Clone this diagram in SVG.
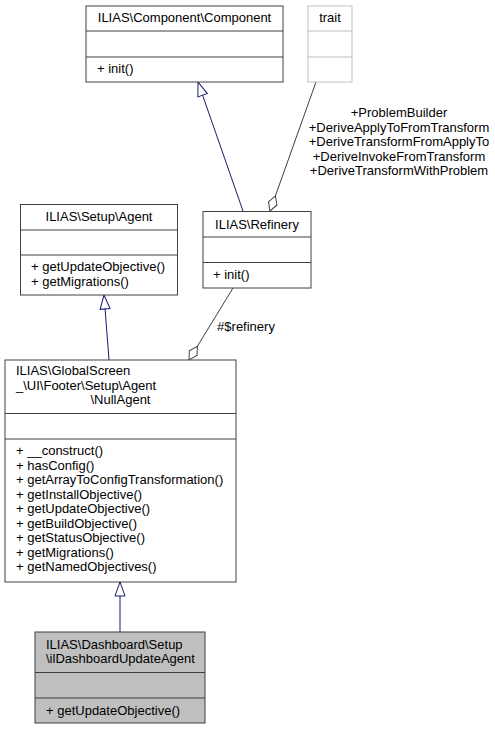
<svg xmlns="http://www.w3.org/2000/svg" width="495" height="729" viewBox="0 0 495 729">
<style>
  text { font-family: "Liberation Sans", Arial, Helvetica, sans-serif; font-size: 13px; fill: #000; }
  .m { text-anchor: middle; }
  .box { fill: #fff; stroke: #404040; stroke-width: 1; }
  .div { stroke: #404040; stroke-width: 1; }
  .tbox { fill: #fff; stroke: #bfbfbf; stroke-width: 1; }
  .tdiv { stroke: #bfbfbf; stroke-width: 1; }
  .cur { fill: #bfbfbf; stroke: #404040; stroke-width: 1; }
  .inh { fill: none; stroke: #191970; stroke-width: 1; marker-end: url(#tri); }
  .agg { fill: none; stroke: #404040; stroke-width: 1; marker-end: url(#dia); }
</style>
<defs>
  <marker id="tri" markerUnits="userSpaceOnUse" markerWidth="16" markerHeight="12" refX="14" refY="5" orient="auto" overflow="visible">
    <path d="M0,0 L14,5 L0,10 Z" fill="#fff" stroke="#191970" stroke-width="1"/>
  </marker>
  <marker id="dia" markerUnits="userSpaceOnUse" markerWidth="18" markerHeight="12" refX="16" refY="4.5" orient="auto" overflow="visible">
    <path d="M0,4.5 L8,0 L16,4.5 L8,9 Z" fill="#fff" stroke="#404040" stroke-width="1"/>
  </marker>
</defs>
<rect width="495" height="729" fill="#fff"/>

<g id="connectors">
  <path class="inh" d="M243,211 L198,82"/>
  <path class="inh" d="M109,360 L104,295"/>
  <path class="inh" d="M120,632 L120,582"/>
  <path class="agg" d="M316,82 L270,211"/>
  <path class="agg" d="M233,288 L189,360"/>
  <text class="m" x="399" y="117">+ProblemBuilder</text>
  <text class="m" x="399" y="131.5">+DeriveApplyToFromTransform</text>
  <text class="m" x="399" y="146">+DeriveTransformFromApplyTo</text>
  <text class="m" x="399" y="160.5">+DeriveInvokeFromTransform</text>
  <text class="m" x="399" y="175">+DeriveTransformWithProblem</text>
  <text class="m" x="246" y="331">#$refinery</text>
</g>

<g id="node-component">
  <rect class="box" x="86" y="6" width="197" height="76"/>
  <line class="div" x1="86" y1="31" x2="283" y2="31"/>
  <line class="div" x1="86" y1="57" x2="283" y2="57"/>
  <text class="m" x="184.5" y="22">ILIAS\Component\Component</text>
  <text x="97" y="73">+ init()</text>
</g>

<g id="node-trait">
  <rect class="tbox" x="308" y="6" width="44" height="76"/>
  <line class="tdiv" x1="308" y1="31" x2="352" y2="31"/>
  <line class="tdiv" x1="308" y1="57" x2="352" y2="57"/>
  <text class="m" x="330" y="22">trait</text>
</g>

<g id="node-agent">
  <rect class="box" x="20.5" y="204.5" width="157" height="90.5"/>
  <line class="div" x1="20.5" y1="230" x2="177.5" y2="230"/>
  <line class="div" x1="20.5" y1="255" x2="177.5" y2="255"/>
  <text class="m" x="99" y="221">ILIAS\Setup\Agent</text>
  <text x="31" y="271">+ getUpdateObjective()</text>
  <text x="31" y="286">+ getMigrations()</text>
</g>

<g id="node-refinery">
  <rect class="box" x="203" y="211.5" width="108" height="76.5"/>
  <line class="div" x1="203" y1="237" x2="311" y2="237"/>
  <line class="div" x1="203" y1="262.5" x2="311" y2="262.5"/>
  <text class="m" x="257" y="228.5">ILIAS\Refinery</text>
  <text x="213" y="279">+ init()</text>
</g>

<g id="node-nullagent">
  <rect class="box" x="5" y="360" width="231" height="222"/>
  <line class="div" x1="5" y1="413.5" x2="236" y2="413.5"/>
  <line class="div" x1="5" y1="439" x2="236" y2="439"/>
  <text x="16" y="375">ILIAS\GlobalScreen</text>
  <text x="16" y="390">_\UI\Footer\Setup\Agent</text>
  <text class="m" x="120.5" y="404">\NullAgent</text>
  <text x="16" y="455">+ __construct()</text>
  <text x="16" y="469.5">+ hasConfig()</text>
  <text x="16" y="484">+ getArrayToConfigTransformation()</text>
  <text x="16" y="498.5">+ getInstallObjective()</text>
  <text x="16" y="513">+ getUpdateObjective()</text>
  <text x="16" y="527.5">+ getBuildObjective()</text>
  <text x="16" y="542">+ getStatusObjective()</text>
  <text x="16" y="556.5">+ getMigrations()</text>
  <text x="16" y="571">+ getNamedObjectives()</text>
</g>

<g id="node-dashboard">
  <rect class="cur" x="35" y="632" width="170" height="91"/>
  <line class="div" x1="35" y1="672.5" x2="205" y2="672.5"/>
  <line class="div" x1="35" y1="698" x2="205" y2="698"/>
  <text x="46" y="649">ILIAS\Dashboard\Setup</text>
  <text x="46" y="663">\ilDashboardUpdateAgent</text>
  <text x="46" y="715">+ getUpdateObjective()</text>
</g>
</svg>
